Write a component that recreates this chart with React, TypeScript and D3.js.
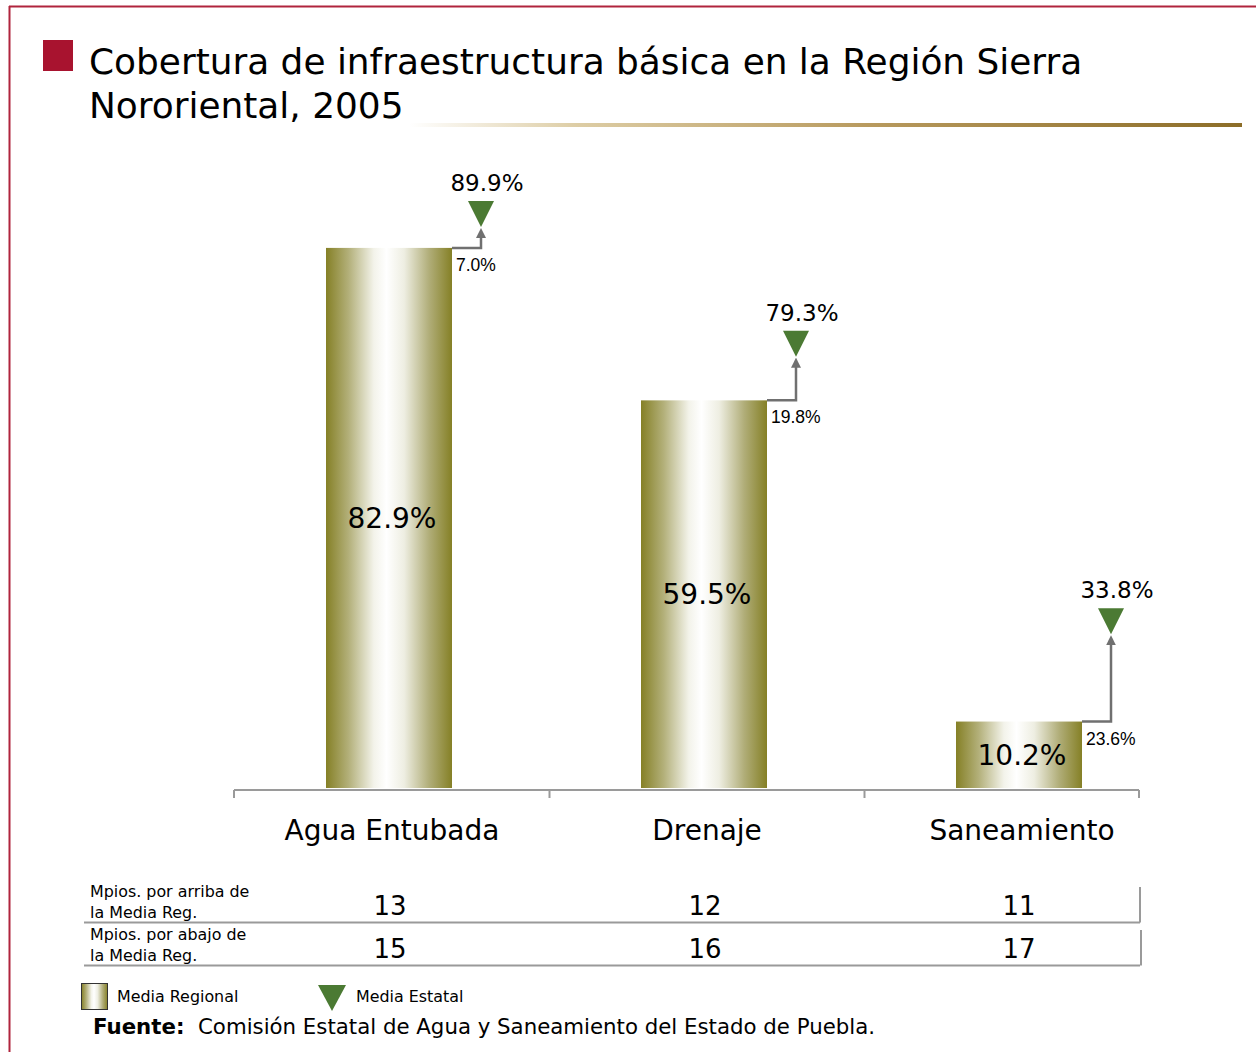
import React from "react";
import * as d3 from "d3";

const categories = ["Agua Entubada", "Drenaje", "Saneamiento"];
const regionalValues = [82.9, 59.5, 10.2];
const stateValues = [89.9, 79.3, 33.8];
const aboveCounts = [13, 12, 11];
const belowCounts = [15, 16, 17];
const rowLabels = [
  ["Mpios. por arriba de", "la Media Reg."],
  ["Mpios. por abajo de", "la Media Reg."],
];
const legendLabels = ["Media Regional", "Media Estatal"];
const titleLines = [
  "Cobertura de infraestructura básica en la Región Sierra",
  "Nororiental, 2005",
];
const sourceBold = "Fuente:";
const sourceText = "Comisión Estatal de Agua y Saneamiento del Estado de Puebla.";

const W = 1256;
const H = 1052;
const FONT = "'DejaVu Sans', Verdana, sans-serif";
const ARIAL = "'Liberation Sans', Arial, sans-serif";
const OLIVE = "#858026";
const GREEN = "#4b7a33";
const GRAY = "#9a9a9a";
const ARROW = "#707070";

export default function App() {
  const baseY = 788;
  const y = d3.scaleLinear().domain([0, 100]).range([baseY, 136.5]);
  const x = d3.scaleBand<string>().domain(categories).range([231.5, 1176.5]).padding(0);
  const barW = x.bandwidth() * 0.4;
  // connector length (px) for the gap between state and regional means
  const conn = d3.scaleLinear().domain([0, 10, 20, 25]).range([0, 27, 42, 102]);
  const tri = 26;
  const fmt = (v: number) => v.toFixed(1) + "%";
  const axisLeft = 234;
  const axisRight = 1139;
  const tickXs = [axisLeft, ...categories.slice(1).map((c) => x(c)! + 3), axisRight];

  return (
    <svg
      width={W}
      height={H}
      style={{ position: "absolute", left: 0, top: 0, background: "#fff" }}
      fontFamily={FONT}
    >
      <defs>
        <linearGradient id="barGrad" x1="0" x2="1" y1="0" y2="0">
          <stop offset="0%" stopColor={OLIVE} />
          <stop offset="18%" stopColor="#b3b07a" />
          <stop offset="38%" stopColor="#f3f3ea" />
          <stop offset="48%" stopColor="#ffffff" />
          <stop offset="62%" stopColor="#eeeee2" />
          <stop offset="82%" stopColor="#b0ad78" />
          <stop offset="100%" stopColor={OLIVE} />
        </linearGradient>
        <linearGradient id="goldGrad" x1="0" x2="1" y1="0" y2="0">
          <stop offset="0%" stopColor="#ffffff" />
          <stop offset="20%" stopColor="#ddcda5" />
          <stop offset="55%" stopColor="#b89a5e" />
          <stop offset="100%" stopColor="#8c6d28" />
        </linearGradient>
        <marker id="arrowHead" viewBox="0 0 10 10" refX="5" refY="5" markerWidth="4" markerHeight="4" orient="auto-start-reverse">
          <path d="M0,0 L10,5 L0,10 z" fill={ARROW} />
        </marker>
      </defs>

      {/* frame */}
      <line x1={9} x2={W} y1={6.5} y2={6.5} stroke="#b0243d" strokeWidth={2} />
      <line x1={9.5} x2={9.5} y1={6} y2={H} stroke="#b0243d" strokeWidth={2} />

      {/* title */}
      <rect x={43} y={40} width={30} height={31} fill="#a8132f" />
      {titleLines.map((t, i) => (
        <text key={i} x={89} y={74 + i * 44} fontSize={35.9} fill="#000">
          {t}
        </text>
      ))}
      <rect x={410} y={123} width={832} height={4} fill="url(#goldGrad)" />

      {/* bars */}
      {categories.map((c, i) => {
        const cx = x(c)! + x.bandwidth() / 2;
        const x0 = cx - barW / 2;
        const top = y(regionalValues[i]);
        const diff = stateValues[i] - regionalValues[i];
        const ax = x0 + barW + 29;
        const tip = top - conn(diff);
        const triTip = tip - 2;
        const triTop = triTip - tri;
        return (
          <g key={c}>
            <rect x={x0} y={top} width={barW} height={baseY - top} fill="url(#barGrad)" />
            <text x={cx + 3} y={(top + baseY) / 2 + 10} fontSize={28} textAnchor="middle">
              {fmt(regionalValues[i])}
            </text>
            <path
              d={`M${x0 + barW},${top} H${ax} V${tip + 4}`}
              fill="none"
              stroke={ARROW}
              strokeWidth={2.5}
              markerEnd="url(#arrowHead)"
            />
            <path
              d={`M${ax - tri / 2},${triTop} L${ax + tri / 2},${triTop} L${ax},${triTip} Z`}
              fill={GREEN}
            />
            <text x={ax + 6} y={triTop - 10} fontSize={23} textAnchor="middle">
              {fmt(stateValues[i])}
            </text>
            <text x={x0 + barW + 4} y={top + 23} fontSize={17.5} fontFamily={ARIAL}>
              {fmt(diff)}
            </text>
            <text x={cx + 3} y={840} fontSize={28} textAnchor="middle">
              {c}
            </text>
          </g>
        );
      })}

      {/* axis */}
      <line x1={axisLeft} x2={axisRight} y1={790} y2={790} stroke={GRAY} strokeWidth={2} />
      {tickXs.map((tx, i) => (
        <line key={i} x1={tx} x2={tx} y1={790} y2={798} stroke={GRAY} strokeWidth={2} />
      ))}

      {/* table */}
      {[aboveCounts, belowCounts].map((row, r) => {
        const rowTop = 884 + r * 43;
        return (
          <g key={r}>
            {rowLabels[r].map((l, k) => (
              <text key={k} x={90} y={rowTop + 13 + k * 21} fontSize={15.9}>
                {l}
              </text>
            ))}
            {row.map((v, i) => {
              const cx = x(categories[i])! + x.bandwidth() / 2;
              return (
                <text key={i} x={cx + (i === 2 ? 0 : 1)} y={rowTop + 31} fontSize={26} textAnchor="middle">
                  {v}
                </text>
              );
            })}
            <line x1={84} x2={axisRight + 1} y1={rowTop + 38.5} y2={rowTop + 38.5} stroke={GRAY} strokeWidth={2} />
            <line x1={axisRight + 1 + r} x2={axisRight + 1 + r} y1={rowTop + 3} y2={rowTop + 38.5} stroke={GRAY} strokeWidth={2} />
          </g>
        );
      })}

      {/* legend */}
      <rect x={81.5} y={983.5} width={26} height={26} fill="url(#barGrad)" stroke="#333" strokeWidth={1} />
      <text x={117} y={1002} fontSize={15.9}>
        {legendLabels[0]}
      </text>
      <path d={`M318,985 L346,985 L332,1011 Z`} fill={GREEN} />
      <text x={356} y={1002} fontSize={15.9}>
        {legendLabels[1]}
      </text>

      {/* source */}
      <text x={93} y={1034} fontSize={21.3}>
        <tspan fontWeight="bold">{sourceBold}</tspan>
        <tspan x={198}>{sourceText}</tspan>
      </text>
    </svg>
  );
}
